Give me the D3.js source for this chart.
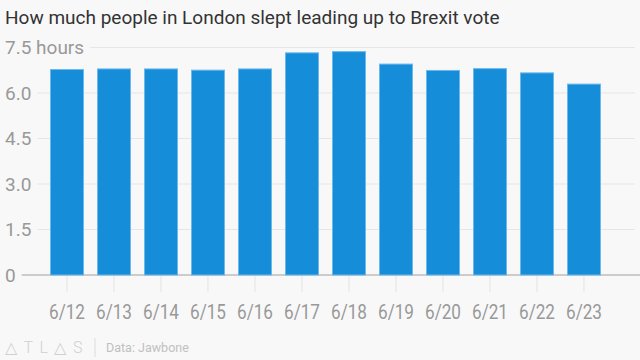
<!DOCTYPE html>
<html>
<head>
<meta charset="utf-8">
<script src="https://cdn.jsdelivr.net/npm/d3@7"></script>
<style>
  html, body { margin: 0; padding: 0; background: #f8f8f8; }
  svg { display: block; }
  text { font-family: Roboto, "Noto Sans", sans-serif; }
</style>
</head>
<body>
<svg id="chart" width="640" height="360"></svg>
<script>
const categories = ["6/12","6/13","6/14","6/15","6/16","6/17","6/18","6/19","6/20","6/21","6/22","6/23"];
const hours = [6.79, 6.81, 6.81, 6.77, 6.81, 7.34, 7.38, 6.97, 6.76, 6.82, 6.68, 6.31];
const yTicks = [0, 1.5, 3.0, 4.5, 6.0, 7.5];
const yTickLabels = ["0", "1.5", "3.0", "4.5", "6.0", "7.5 hours"];
const title = "How much people in London slept leading up to Brexit vote";
const source = "Data: Jawbone";

const svg = d3.select("#chart");
const W = 640, H = 360;
svg.append("rect").attr("width", W).attr("height", H).attr("fill", "#f8f8f8");

const y = d3.scaleLinear().domain([0, 7.5]).range([275, 47.5]);
const x = d3.scaleBand().domain(categories).range([43.5, 607.5])
  .paddingInner(0.277).paddingOuter(0.1385);

// title
svg.append("text").attr("x", 5).attr("y", 23.5)
  .attr("font-size", 19).attr("fill", "#333")
  .text(title);

// y grid + labels
const yg = svg.append("g");
yTicks.forEach((t, i) => {
  const lab = yg.append("text").attr("x", 5).attr("y", y(t))
    .attr("dy", "0.35em").attr("font-size", 19).attr("fill", "#999")
    .text(yTickLabels[i]);
  const w = lab.node().getComputedTextLength();
  yg.insert("line", "text")
    .attr("x1", 5 + w + 6).attr("x2", t === 0 ? 640 : 635)
    .attr("y1", y(t)).attr("y2", y(t))
    .attr("stroke", t === 0 ? "#a0a0a0" : "#e6e6e6")
    .attr("stroke-width", t === 0 ? 1.2 : 1);
});

// bars
svg.append("g").selectAll("rect").data(categories).join("rect")
  .attr("x", d => x(d) + 0.5)
  .attr("y", (d, i) => y(hours[i]) + 0.5)
  .attr("width", x.bandwidth() - 1)
  .attr("height", (d, i) => y(0) - y(hours[i]) - 0.5)
  .attr("fill", "#168dd9")
  .attr("stroke", "#6cb8ec")
  .attr("stroke-width", 1);

// x axis ticks + labels
const xa = svg.append("g").attr("transform", "translate(0,275)");
xa.selectAll("line").data(categories).join("line")
  .attr("x1", d => x(d) + x.bandwidth() / 2)
  .attr("x2", d => x(d) + x.bandwidth() / 2)
  .attr("y1", 1).attr("y2", 17)
  .attr("stroke", "#e3e3e3");
xa.selectAll("text").data(categories).join("text")
  .attr("x", d => x(d) + x.bandwidth() / 2)
  .attr("y", 44)
  .attr("text-anchor", "middle")
  .attr("font-size", 20).attr("fill", "#999")
  .attr("textLength", 36).attr("lengthAdjust", "spacingAndGlyphs")
  .text(d => d);

// footer
svg.append("text").attr("x", 5).attr("y", 352.5)
  .attr("font-size", 16).attr("fill", "#d0d0d0")
  .attr("letter-spacing", 6.5).attr("font-weight", 300)
  .text("\u25B3TL\u25B3S");
svg.append("line").attr("x1", 95).attr("x2", 95).attr("y1", 338).attr("y2", 357)
  .attr("stroke", "#dcdcdc");
svg.append("text").attr("x", 106).attr("y", 352)
  .attr("font-size", 12.5).attr("fill", "#c0c0c0")
  .text(source);
</script>
</body>
</html>
